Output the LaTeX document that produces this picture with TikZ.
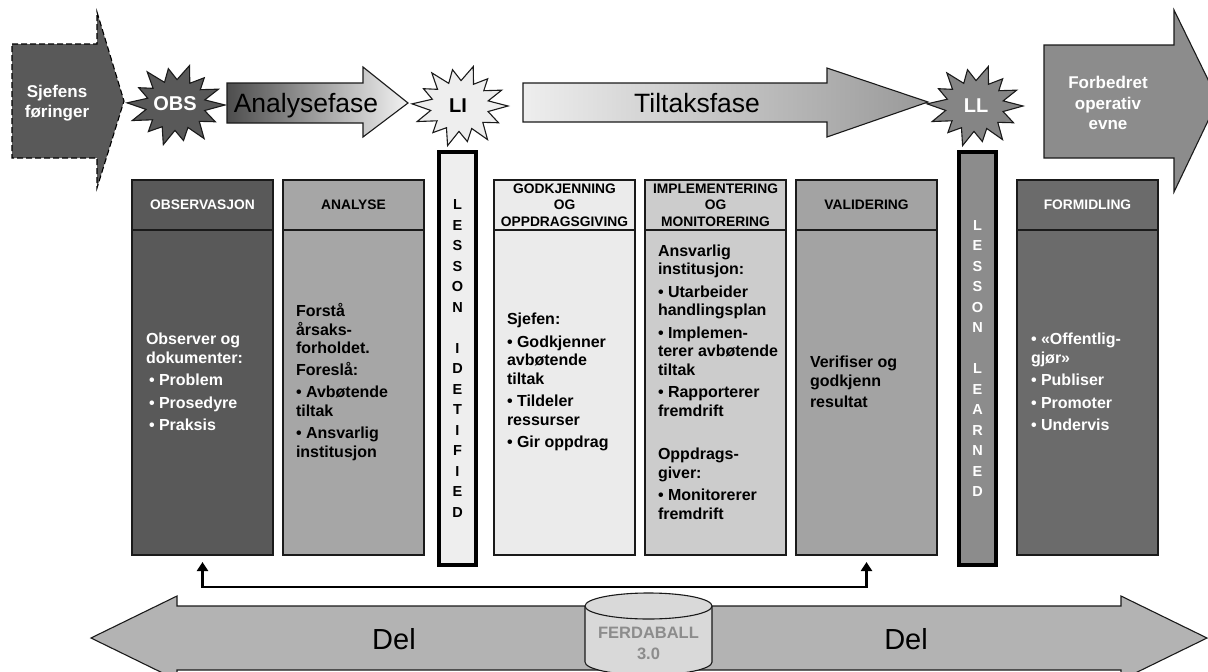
\documentclass[tikz,border=0pt]{standalone}
\usepackage{fontspec}
\setmainfont{Liberation Sans}
\usetikzlibrary{arrows.meta}
\definecolor{darkg}{HTML}{595959}
\definecolor{anag}{HTML}{A6A6A6}
\definecolor{godg}{HTML}{EBEBEB}
\definecolor{impg}{HTML}{CCCCCC}
\definecolor{valg}{HTML}{A3A3A3}
\definecolor{formg}{HTML}{6B6B6B}
\definecolor{llg}{HTML}{8C8C8C}
\definecolor{llstar}{HTML}{858585}
\definecolor{delg}{HTML}{B3B3B3}
\definecolor{cylg}{HTML}{D9D9D9}
\definecolor{cyltext}{HTML}{8C8C8C}
\definecolor{lig}{HTML}{EEEEEE}
\definecolor{anaL}{HTML}{4D4D4D}
\definecolor{anaR}{HTML}{F2F2F2}
\definecolor{tilL}{HTML}{EEEEEE}
\definecolor{tilM}{HTML}{E0E0E0}
\definecolor{tilR}{HTML}{999999}
\definecolor{edge}{HTML}{1A1A1A}
\newcommand\bul{\textbullet\ }
\tikzset{
  burst/.pic={
    \draw[pic actions] (0:1) -- (13:0.6) -- (27:0.9) -- (40:0.62) -- (55:1) -- (66:0.6) -- (80:0.88) -- (92:0.62) -- (105:1) -- (118:0.6) -- (131:0.86) -- (143:0.6) -- (157:0.97) -- (170:0.62) -- (183:1) -- (196:0.6) -- (209:0.87) -- (221:0.62) -- (234:1) -- (247:0.6) -- (260:0.9) -- (272:0.62) -- (286:1) -- (298:0.6) -- (311:0.88) -- (323:0.62) -- (336:0.95) -- (348:0.6) -- cycle;
  }
}
\begin{document}
\begin{tikzpicture}[x=1pt,y=-1pt,
  every node/.style={inner sep=0pt, outer sep=0pt},
  outline/.style={draw=edge, line width=1.1pt, line join=miter},
  colbox/.style={outline, minimum width=141pt, anchor=north west},
  colhead/.style={colbox, minimum height=50pt, align=center, font=\bfseries\fontsize{13.8}{16.5}\selectfont},
  colbody/.style={colbox, minimum height=325pt},
  coltext/.style={anchor=west, align=left, font=\bfseries\fontsize{16}{18.5}\selectfont},
  lessonbar/.style={draw=black, line width=4pt, minimum width=37pt, minimum height=413pt, align=center, font=\bfseries\fontsize{14.5}{20.5}\selectfont},
  phasetext/.style={anchor=base, font=\fontsize{26.5}{30}\selectfont},
  deltext/.style={anchor=base, font=\fontsize{29}{32}\selectfont},
  startext/.style={font=\bfseries\fontsize{20}{24}\selectfont},
  whitebold/.style={text=white, align=center, font=\bfseries\fontsize{17}{20.5}\selectfont},
  feedback/.style={line width=2.8pt, line join=miter, {Triangle[width=11pt,length=9pt]}-{Triangle[width=11pt,length=9pt]}, shorten <=7pt, shorten >=7pt},
]
\useasboundingbox (0,0) rectangle (1208,672);
\clip (0,0) rectangle (1208,672);

% ---- top row ----
\draw[fill=darkg, draw=black, line width=1.1pt, dash pattern=on 6pt off 3pt]
  (12,44) -- (97,44) -- (97,12) -- (124,101) -- (97,188) -- (97,158) -- (12,158) -- cycle;
\node[whitebold] (sjef) at (57,103) {Sjefens\\føringer};

\pic[fill=darkg, draw=edge, line width=1.1pt, xscale=49, yscale=41] at (176,105) {burst};
\node[startext, text=white] (obs) at (175,104) {OBS};

\draw[outline, left color=anaL, right color=anaR]
  (227,83) -- (363,83) -- (363,67) -- (408,103) -- (363,137) -- (363,123) -- (227,123) -- cycle;
\node[phasetext] (anafase) at (306,112) {Analysefase};

\pic[fill=lig, draw=edge, line width=1.1pt, xscale=48, yscale=41] at (460,106) {burst};
\node[startext] (li) at (458,106) {LI};

\draw[outline, left color=tilL, middle color=tilM, right color=tilR]
  (523,83) -- (827,83) -- (827,68) -- (928,102) -- (827,137) -- (827,122) -- (523,122) -- cycle;
\node[phasetext] (tiltak) at (697,112) {Tiltaksfase};

\pic[fill=llstar, draw=edge, line width=1.1pt, xscale=48, yscale=41] at (975,106) {burst};
\node[startext, text=white] (ll) at (976,106) {LL};

\draw[outline, fill=llg]
  (1044,45) -- (1174,45) -- (1174,10) -- (1218,100) -- (1174,192) -- (1174,158) -- (1044,158) -- cycle;
\node[whitebold] (forb) at (1108,103) {Forbedret\\operativ\\evne};

% ---- columns ----
\node[colhead, fill=darkg, text=white] (obsh) at (132,180) {OBSERVASJON};
\node[colbody, fill=darkg] (obsb) at (132,230) {};
\node[coltext, text=white] (obst) at (146,382)
  {Observer og\\dokumenter:\\[4pt]\hspace{3pt}\bul Problem\\[4pt]\hspace{3pt}\bul Prosedyre\\[4pt]\hspace{3pt}\bul Praksis};

\node[colhead, fill=anag] (anah) at (283,180) {ANALYSE};
\node[colbody, fill=anag] (anab) at (283,230) {};
\node[coltext] (anat) at (296,382)
  {Forstå\\årsaks-\\forholdet.\\[3pt]Foreslå:\\[4pt]\bul Avbøtende\\tiltak\\[4pt]\bul Ansvarlig\\institusjon};

\node[lessonbar, fill=lig] (libar) at (457.5,358.5)
  {L\\E\\S\\S\\O\\N\\[20.5pt]I\\D\\E\\T\\I\\F\\I\\E\\D};

\node[colhead, fill=godg] (godh) at (494,180) {GODKJENNING\\OG\\OPPDRAGSGIVING};
\node[colbody, fill=godg] (godb) at (494,230) {};
\node[coltext] (godt) at (507,382)
  {Sjefen:\\[4pt]\bul Godkjenner\\avbøtende\\tiltak\\[4pt]\bul Tildeler\\ressurser\\[4pt]\bul Gir oppdrag};

\node[colhead, fill=impg] (imph) at (645,180) {IMPLEMENTERING\\OG\\MONITORERING};
\node[colbody, fill=impg] (impb) at (645,230) {};
\node[coltext] (impt) at (658,382)
  {Ansvarlig\\institusjon:\\[4pt]\bul Utarbeider\\handlingsplan\\[4pt]\bul Implemen-\\terer avbøtende\\tiltak\\[4pt]\bul Rapporterer\\fremdrift\\[25pt]Oppdrags-\\giver:\\[4pt]\bul Monitorerer\\fremdrift};

\node[colhead, fill=valg] (valh) at (796,180) {VALIDERING};
\node[colbody, fill=valg] (valb) at (796,230) {};
\node[coltext] (valt) at (810,382)
  {Verifiser og\\godkjenn\\[3pt]resultat};

\node[lessonbar, fill=llg, text=white] (llbar) at (977.5,358.5)
  {L\\E\\S\\S\\O\\N\\[20.5pt]L\\E\\A\\R\\N\\E\\D};

\node[colhead, fill=formg, text=white] (formh) at (1017,180) {FORMIDLING};
\node[colbody, fill=formg] (formb) at (1017,230) {};
\node[coltext, text=white] (formt) at (1031,382)
  {\bul «Offentlig-\\gjør»\\[4pt]\bul Publiser\\[4pt]\bul Promoter\\[4pt]\bul Undervis};

% ---- feedback connector ----
\coordinate (fb) at (535,587);
\draw[feedback] (obsb.south) |- (fb) -| (valb.south);

% ---- Del arrows ----
\draw[outline, fill=delg]
  (91,638) -- (177,596) -- (177,606) -- (1121,606) -- (1121,596) -- (1207,638)
  -- (1121,680) -- (1121,670) -- (177,670) -- (177,680) -- cycle;
\node[deltext] (delL) at (394,649) {Del};
\node[deltext] (delR) at (906,649) {Del};

% ---- database cylinder ----
\fill[cylg] (585,606) rectangle (712,662);
\fill[cylg] (648.5,662) ellipse[x radius=63.5pt, y radius=13pt];
\draw[outline] (585,606) -- (585,662) arc[start angle=180, end angle=360, x radius=63.5pt, y radius=13pt] -- (712,606);
\draw[outline, fill=cylg] (648.5,606) ellipse[x radius=63.5pt, y radius=13pt];
\node[text=cyltext, align=center, font=\bfseries\fontsize{16.5}{21}\selectfont] (ferda) at (648.5,643) {FERDABALL\\3.0};
\end{tikzpicture}
\end{document}
